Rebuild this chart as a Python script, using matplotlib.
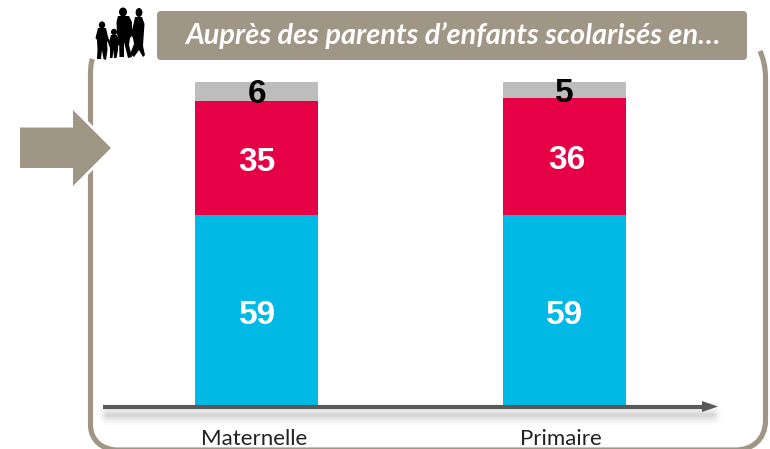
import matplotlib
matplotlib.use("Agg")
import matplotlib.pyplot as plt
from matplotlib.patches import FancyBboxPatch, Polygon, PathPatch, Ellipse
from matplotlib.path import Path
from matplotlib.transforms import ScaledTranslation

categories = ["Maternelle", "Primaire"]
blue_values = [59, 59]
red_values = [35, 36]
grey_values = [6, 5]
header = "Auprès des parents d’enfants scolarisés en…"

BLUE, RED, GREY = "#00B9E4", "#E60045", "#BDBDBD"
TAUPE = "#A09686"
W, H = 770, 449

fig = plt.figure(figsize=(W / 100, H / 100), dpi=100, facecolor="white")

# Chart axes: pixel box x 103-718, y 82-406
ax = fig.add_axes([103 / W, 1 - 406 / H, 615 / W, 324 / H], facecolor="none")
bar_w = 0.4
pos = list(range(len(categories)))
bottom2 = [a + b for a, b in zip(blue_values, red_values)]
ax.bar(pos, blue_values, bar_w, color=BLUE)
ax.bar(pos, red_values, bar_w, bottom=blue_values, color=RED)
ax.bar(pos, grey_values, bar_w, bottom=bottom2, color=GREY)
ax.set_xlim(-0.5, 1.5)
ax.set_ylim(0, 100)
ax.set_yticks([])
ax.set_xticks(pos)
ax.set_xticklabels(categories, family="Lato", fontsize=16, color="#222222")
ax.tick_params(axis="x", length=0, pad=16.3)
for lab in ax.get_xticklabels():
    lab.set_transform(lab.get_transform() + ScaledTranslation(-3 / 100, 0, fig.dpi_scale_trans))
for s in ax.spines.values():
    s.set_visible(False)

lab_kw = dict(ha="center", va="center", family="Liberation Sans", fontweight="bold", fontsize=24)
for i in pos:
    ax.text(i + 0.002, blue_values[i] / 2 - 1.7, str(blue_values[i]), color="white", **lab_kw)
    ax.text(i + (0.008 if i else 0.001), blue_values[i] + red_values[i] / 2 - 1.2, str(red_values[i]), color="white", **lab_kw)
    ax.text(i, bottom2[i] + grey_values[i] / 2 - 1.0, str(grey_values[i]), color="black", **lab_kw)

# Decoration overlay in pixel coordinates
ov = fig.add_axes([0, 0, 1, 1], facecolor="none", zorder=5)
ov.set_xlim(0, W)
ov.set_ylim(H, 0)
ov.axis("off")

M, L, C = Path.MOVETO, Path.LINETO, Path.CURVE4
frame = Path(
    [(92.5, 59), (90.5, 64), (90.5, 70), (90.5, 78),
     (90.5, 425), (90.5, 440), (102, 450), (118, 450),
     (735, 450), (752, 450), (765.5, 440), (765.5, 420),
     (765.5, 78), (765.5, 66), (763, 58), (760, 51)],
    [M, C, C, L, L, C, C, C, L, C, C, C, L, C, C, C])
ov.add_patch(PathPatch(frame, fc="none", ec=TAUPE, lw=3.7, capstyle="butt", zorder=1))

# Big arrow with white halo
arrow = [(20, 127.5), (73, 127.5), (73, 110), (111, 148), (73, 186), (73, 168), (20, 168)]
ov.add_patch(Polygon(arrow, closed=True, fc=TAUPE, ec="white", lw=4, joinstyle="miter", zorder=2))
ov.add_patch(Polygon(arrow, closed=True, fc=TAUPE, ec="none", zorder=3))

# Header
ov.add_patch(FancyBboxPatch((160, 14), 584, 43, boxstyle="round,pad=3,rounding_size=4", fc=TAUPE, ec="none", zorder=2))
ov.text(452.5, 36, header, color="white", family="Lato", style="italic", fontweight="bold",
        fontsize=20.8, ha="center", va="center", zorder=4)

# Axis shadow, line and head
for w, a in [(20, 0.025), (16, 0.035), (12, 0.05), (8, 0.06), (4, 0.07)]:
    ov.plot([108, 712], [415, 415], color="#555555", lw=w * 0.72, alpha=a, solid_capstyle="round", zorder=1.5)
ov.plot([103, 704], [406.5, 406.5], color="#595959", lw=3, solid_capstyle="butt", zorder=4)
ov.add_patch(Polygon([(702, 401), (718, 406.5), (702, 412)], closed=True, fc="#595959", ec="none", zorder=4))

# Family silhouette
sil = dict(fc="black", ec="none", zorder=4)
for cx, cy, rx, ry in [(102, 25, 3.2, 3.6), (114, 32, 3, 3.2), (123, 12, 4, 4.5), (139, 12.5, 3.4, 4.5)]:
    ov.add_patch(Ellipse((cx, cy), 2 * rx, 2 * ry, **sil))
bodies = [
    [(98, 28), (106, 28), (108, 37), (111, 44), (109.5, 45), (107, 41), (107.5, 50), (106, 60), (103.5, 59), (102, 50), (101, 59), (97, 59), (97.5, 50), (97, 40), (95.5, 38)],
    [(111, 35), (117, 35), (120, 42), (119, 46), (118, 45), (118, 50), (116.5, 58), (114, 58), (113.5, 50), (112.5, 58), (110, 58), (110, 48), (108.5, 44)],
    [(118, 16), (129, 16), (132, 22), (132, 36), (130, 38), (129, 45), (132, 57), (128, 58), (124, 42), (124, 57), (119.5, 57), (119, 40), (117, 34), (116.5, 22)],
    [(135, 17), (142, 17), (144.5, 24), (143.5, 38), (143, 46), (145, 55), (143, 57), (139, 50), (134, 57), (130, 54), (134, 44), (133, 38), (131, 34), (133.5, 24)],
]
for b in bodies:
    ov.add_patch(Polygon(b, closed=True, **sil))

fig.savefig("out.png", dpi=100)
